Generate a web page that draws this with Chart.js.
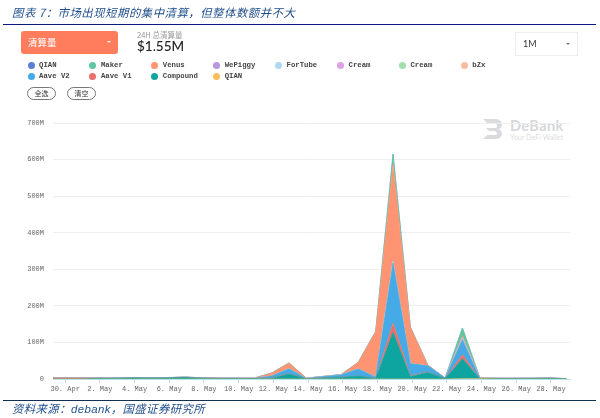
<!DOCTYPE html>
<html>
<head>
<meta charset="utf-8">
<script src="https://cdn.jsdelivr.net/npm/chart.js@4/dist/chart.umd.min.js"></script>
<style>
  html, body { margin: 0; padding: 0; background: #fff; }
  #page { position: relative; width: 600px; height: 418px; overflow: hidden; font-family: "Noto Sans CJK SC", sans-serif; }
  #page > * { position: absolute; }
  canvas { left: 0; top: 0; }
  .heading { left: 12px; color: #1f4e8c; font-style: italic; white-space: nowrap; }
  .rule { left: 3px; width: 593px; }
  .picker { left: 21px; top: 31px; width: 97px; height: 23px; background: #ff7c5c; border-radius: 3px; color: #fff; font-size: 9.5px; line-height: 23px; text-indent: 7px; }
  .picker i, .range i { position: absolute; top: 10px; width: 0; height: 0; border: 2.5px solid transparent; border-top-color: #fff; }
  .picker i { right: 7px; }
  .stat-label { left: 137px; top: 30px; font-size: 7.5px; line-height: 10px; color: #999; }
  .stat-value { left: 137px; top: 37px; font: 500 13.5px/18px Lato, sans-serif; color: #222; }
  .range { left: 515px; top: 32px; width: 61px; height: 22px; border: 1px solid #eee; font: 9px/22px Lato, sans-serif; color: #333; text-indent: 7px; }
  .range i { right: 7px; border-top-color: #777; }
  .legend-item { font: bold 7.3px/10px "Liberation Mono", monospace; color: #444; white-space: nowrap; padding-left: 11.5px; }
  .legend-item b { position: absolute; left: 0; top: 1.5px; width: 7px; height: 7px; border-radius: 50%; }
  .pill { top: 87px; width: 27px; height: 11px; border: 1px solid #777; border-radius: 7px; font-size: 7px; line-height: 11px; text-align: center; color: #333; }
  .mark { left: 510px; top: 118px; font: bold 14.5px/16px Lato, sans-serif; color: #d6d8dc; letter-spacing: .4px; }
  .mark-sub { left: 510px; top: 133px; font: 7.2px/9px Lato, sans-serif; color: #dcdee2; white-space: nowrap; }
</style>
</head>
<body>
<div id="page">
  <svg style="left:483px;top:119px" width="20" height="20" viewBox="0 0 20 20"><path d="M0 0h11c5 0 8 2 8 5s-1 4-3 5c2 1 3 3 3 5 0 3-3 5-8 5H0l4-4h7c2 0 3-.5 3-1.5S13 12 11 12H6l-3-3h8c2 0 3-.5 3-1.5S13 4 11 4H4z" fill="#d9dbdf"/></svg>
  <div class="mark">DeBank</div>
  <div class="mark-sub">Your DeFi Wallet</div>
  <canvas id="chart" width="600" height="418"></canvas>

  <div class="heading" style="top:1px;font-size:11.4px;line-height:22px;letter-spacing:.5px">图表 7：市场出现短期的集中清算，但整体数额并不大</div>
  <div class="rule" style="top:24px;height:1px;background:#0a1a80"></div>
  <div class="picker">清算量<i></i></div>
  <div class="stat-label">24H 总清算量</div>
  <div class="stat-value">$1.55M</div>
  <div class="range">1M<i></i></div>
  <div id="legend" style="left:0;top:0"></div>
  <div class="pill" style="left:27px">全选</div>
  <div class="pill" style="left:67px">清空</div>
  <div class="rule" style="top:400px;height:1px;background:#12304f"></div>
  <div class="heading" style="top:399px;font-size:11.4px;line-height:18px;letter-spacing:.4px">资料来源：<span style="font-family:'Liberation Sans'">debank</span>，国盛证券研究所</div>
</div>

<script>
// one point per day, 29 Apr to 29 May (day 0 = 30 Apr)
const days = [-1, 0, 1, 2, 3, 4, 5, 6, 7, 8, 9, 10, 11, 12, 13, 14, 15, 16, 17, 18, 19, 20, 21, 22, 23, 24, 25, 26, 27, 28, 29];
const tickLabels = ['30. Apr', '2. May', '4. May', '6. May', '8. May', '10. May', '12. May', '14. May', '16. May', '18. May', '20. May', '22. May', '24. May', '26. May', '28. May'];
const yTicks = [0, 100, 200, 300, 400, 500, 600, 700];

// top of the stack first, same order as the legend
const qianTop  = [0, 0, 0, 0, 0, 0, 0, 0, 0, 0, 0, 0, 0, 0, 0, 0, 0, 0, 0, 0, 0, 0, 0, 0, 0, 0, 0, 0, 0, 0, 0];
const maker    = [0.2, 0.2, 0.2, 0.2, 0.2, 0.2, 0.2, 0.2, 0.2, 0.2, 0.2, 0.2, 0.2, 0.3, 0.5, 0.1, 0.2, 0.3, 0.5, 1, 28, 1, 0.5, 0.2, 21, 0.2, 0.1, 0.1, 0.1, 0.1, 0.1];
const venus    = [0.3, 0.3, 0.3, 0.3, 0.3, 0.3, 0.3, 0.3, 0.3, 0.3, 0.3, 0.3, 0.5, 8, 15, 1, 0.5, 0.5, 18, 124, 265, 99, 2, 0.3, 4, 0.5, 0.1, 0.1, 0.1, 0.1, 0.1];
const wePiggy  = [0, 0, 0, 0, 0, 0, 0, 0, 0, 0, 0, 0, 0, 0, 0, 0, 0, 0, 0, 0, 0, 0, 0, 0, 1, 0, 0, 0, 0, 0, 0];
const forTube  = [0, 0, 0, 0, 0, 0, 0, 0, 0, 0, 0, 0, 0, 0, 0, 0, 0, 0, 0, 0, 2, 0, 0, 0, 1, 0, 0, 0, 0, 0, 0];
const creamA   = [0, 0, 0, 0, 0, 0, 0, 0, 0, 0, 0, 0, 0, 0, 0, 0, 0, 0, 0, 0, 1, 0, 0, 0, 2, 0, 0, 0, 0, 0, 0];
const creamB   = [0, 0, 0, 0, 0, 0, 0, 0, 0, 0, 0, 0, 0, 0, 0, 0, 0, 0, 0, 0, 1, 0, 0, 0, 2, 0, 0, 0, 0, 0, 0];
const bzx      = [0.1, 0.1, 0.1, 0.1, 0.1, 0, 0, 0, 0, 0, 0, 0, 0, 0, 0.5, 0, 0, 0, 0, 0, 1, 0, 0, 0, 1, 0.5, 0.2, 0, 0, 0, 0];
const aaveV2   = [0.3, 0.3, 0.2, 0.5, 0.5, 0.6, 0.8, 0.8, 0.8, 0.5, 0.5, 0.6, 0.5, 5, 13, 0.5, 4, 6, 19, 3, 164, 33, 17, 1, 41, 0.3, 0.3, 0.3, 0.3, 0.3, 0.2];
const aaveV1   = [2.4, 2.4, 2.2, 0.2, 0.2, 0.2, 0.2, 0.2, 0.2, 0.2, 0.2, 0.2, 0.2, 1, 1, 0.1, 0.2, 0.2, 0.5, 0.5, 25, 2, 1, 0.2, 11, 0.1, 0.1, 0.1, 0.1, 0.1, 0.1];
const compound = [0, 0, 0.2, 1.8, 1.8, 2.8, 2.2, 2.5, 3.8, 2.2, 1.5, 1.4, 1.3, 2, 14, 0.8, 2.5, 5, 8, 1.5, 128, 7, 18, 1.2, 55, 0.8, 1.3, 1.4, 1.5, 2, 0.6];
const qianLow  = [0, 0, 0, 0, 0, 0, 0, 0, 0, 0, 0, 0, 0, 0, 0, 0, 0, 0, 0, 0, 0, 0, 0, 0, 0.5, 0.8, 0, 0, 0, 0, 0];

const legendNames = ['QIAN', 'Maker', 'Venus', 'WePiggy', 'ForTube', 'Cream', 'Cream', 'bZx', 'Aave V2', 'Aave V1', 'Compound', 'QIAN'];
const legendColors = ['#5b7fd6', '#5fc79f', '#ff9472', '#b797e0', '#aed8f2', '#e0a0e4', '#a3dfae', '#f9bd9d', '#45aae6', '#e8706b', '#0ea5a0', '#fbbd5c'];
const seriesValues = [qianTop, maker, venus, wePiggy, forTube, creamA, creamB, bzx, aaveV2, aaveV1, compound, qianLow];

// legend built by hand, the original sits in a fixed grid
const legendBox = document.getElementById('legend');
legendNames.forEach((name, i) => {
  const item = document.createElement('div');
  item.className = 'legend-item';
  item.style.position = 'absolute';
  item.style.left = (27.5 + (i % 8) * 61.9) + 'px';
  item.style.top = (i < 8 ? 60 : 71) + 'px';
  item.innerHTML = '<b style="background:' + legendColors[i] + '"></b>' + name;
  legendBox.appendChild(item);
});

// the samples sit a little before the midnight ticks
const sampleShift = -0.1;

// chart.js stacks from the first dataset up, so reverse the legend order
const datasets = legendNames.map((name, i) => ({
  label: name,
  data: seriesValues[i].map((v, j) => ({ x: days[j] + sampleShift, y: v })),
  borderColor: legendColors[i],
  backgroundColor: legendColors[i],
  borderWidth: 0.6,
  pointRadius: 0,
  tension: 0
})).reverse();
datasets.forEach((d, i) => { d.fill = i === 0 ? 'origin' : '-1'; });

const tickFont = { family: 'Liberation Mono', size: 7 };

new Chart(document.getElementById('chart'), {
  type: 'line',
  data: { datasets },
  options: {
    responsive: false,
    animation: false,
    layout: { padding: { top: 123, right: 30, left: 0, bottom: 0 } },
    plugins: { legend: { display: false }, tooltip: { enabled: false } },
    scales: {
      x: {
        type: 'linear',
        min: -0.7,
        max: 29.1,
        afterFit: (scale) => { scale.height = 39; },
        border: { color: '#b5e3ea' },
        grid: { drawOnChartArea: false, drawTicks: true, tickLength: 4, tickColor: '#ccd6eb' },
        ticks: {
          stepSize: 2,
          includeBounds: false,
          autoSkip: false,
          maxRotation: 0,
          padding: 2,
          color: '#666',
          font: tickFont,
          callback: (value) => tickLabels[value / 2]
        }
      },
      y: {
        stacked: true,
        min: 0,
        max: 700,
        afterFit: (scale) => { scale.width = 53; },
        afterBuildTicks: (scale) => { scale.ticks = yTicks.map((value) => ({ value })); },
        border: { display: false },
        grid: { color: '#eeeeee', lineWidth: 1, drawTicks: false },
        ticks: {
          padding: 9,
          color: '#666',
          font: tickFont,
          callback: (value) => (value === 0 ? '0' : value + 'M')
        }
      }
    }
  }
});
</script>
</body>
</html>
